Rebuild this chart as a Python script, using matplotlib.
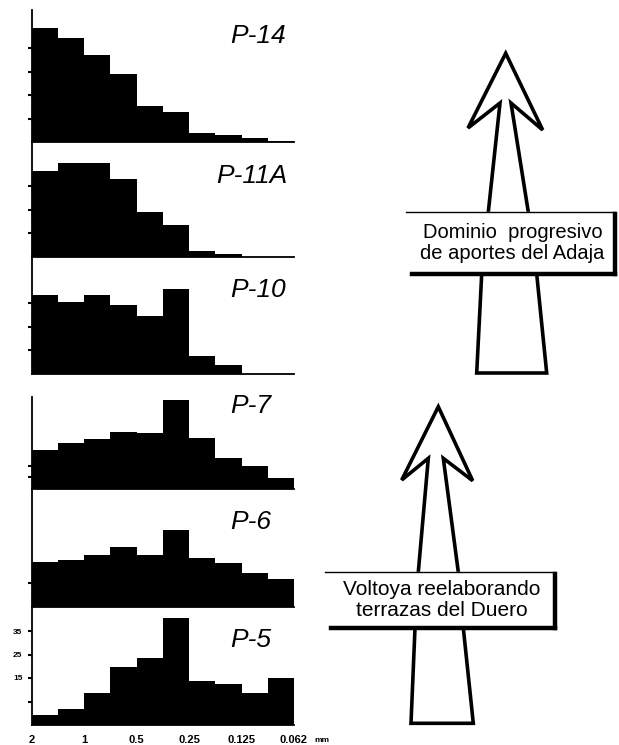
import matplotlib
matplotlib.use("Agg")
import matplotlib.pyplot as plt
import numpy as np

# ---- data (percent per 0.5-phi class) ----
bin_left_phi = [-1.0, -0.5, 0.0, 0.5, 1.0, 1.5, 2.0, 2.5, 3.0, 3.5]
tick_phi = [-1, 0, 1, 2, 3, 4]
tick_labels = ["2", "1", "0.5", "0.25", "0.125", "0.062"]

samples = ["P-14", "P-11A", "P-10", "P-7", "P-6", "P-5"]
p14 = [24.2, 22.1, 18.5, 14.5, 7.7, 6.4, 2.0, 1.5, 0.9, 0.2]
p11a = [18.1, 20.0, 20.0, 16.4, 9.4, 6.6, 1.1, 0.6, 0.0, 0.0]
p10 = [16.8, 15.2, 16.8, 14.5, 12.2, 17.9, 3.7, 1.9, 0.0, 0.0]
p7 = [8.3, 9.7, 10.6, 12.2, 11.9, 18.9, 10.8, 6.5, 4.9, 2.4]
p6 = [9.6, 9.9, 11.1, 12.8, 11.1, 16.3, 10.4, 9.4, 7.2, 6.0]
p5 = [2.1, 3.3, 6.9, 12.4, 14.2, 22.7, 9.4, 8.7, 6.9, 9.9]
series = [p14, p11a, p10, p7, p6, p5]

y_ticks = [[5, 10, 15, 20], [5, 10, 15], [5, 10, 15], [2.5, 5], [5], [5, 10, 15, 20]]
p5_ylabels = {10: "15", 15: "25", 20: "35"}

upper_text = "Dominio  progresivo\nde aportes del Adaja"
lower_text = "Voltoya reelaborando\nterrazas del Duero"

# ---- layout (pixels) ----
W, H = 619, 745
PX_PER_PCT = 4.7
panels_px = [(10, 142), (142, 256.5), (256.5, 373.5), (397, 489), (489, 606.7), (606.7, 725)]
label_pos = [(230, 36), (216, 176), (230, 290), (230, 406), (230, 522), (230, 640)]
x_left, x_right = 31.5, 294

fig = plt.figure(figsize=(W / 100, H / 100), dpi=100)
fig.patch.set_facecolor("white")

for i, (name, vals) in enumerate(zip(samples, series)):
    top, base = panels_px[i]
    ax = fig.add_axes([x_left / W, (H - base) / H, (x_right - x_left) / W, (base - top) / H])
    ax.bar(bin_left_phi, vals, width=0.5, align="edge", color="black", linewidth=0)
    ax.set_xlim(-1, 4)
    ax.set_ylim(0, (base - top) / PX_PER_PCT)
    for s in ["top", "right"]:
        ax.spines[s].set_visible(False)
    for s in ["left", "bottom"]:
        ax.spines[s].set_linewidth(1.3)
    ax.set_facecolor("none")
    ax.set_yticks(y_ticks[i])
    ax.tick_params(axis="y", direction="out", length=3, width=1.5, labelsize=6)
    if name == "P-5":
        ax.set_yticklabels([p5_ylabels.get(t, "") for t in y_ticks[i]],
                           fontweight="bold", family="Liberation Sans")
        ax.set_xticks(tick_phi)
        ax.set_xticklabels(tick_labels, fontsize=8, fontweight="bold", family="Liberation Sans")
        ax.tick_params(axis="x", length=0, pad=7)
    else:
        ax.set_yticklabels([])
        ax.set_xticks([])
    lx, ly = label_pos[i]
    fig.text(lx / W, 1 - ly / H, name, fontsize=19, style="italic",
             family="Liberation Sans", ha="left", va="center")

fig.text(314 / W, 1 - 740 / H, "mm", fontsize=6, fontweight="bold",
         family="Liberation Sans", ha="left", va="center")

# ---- overlay for arrows and boxes ----
ov = fig.add_axes([0, 0, 1, 1])
ov.set_xlim(0, W)
ov.set_ylim(H, 0)
ov.axis("off")
ov.set_facecolor("none")

def arrow(tip, lwing, lnotch, rnotch, rwing, shaft_bot_l, shaft_bot_r,
          box, stem_l, stem_r, text, fs):
    lw = 2.6
    xs = [shaft_bot_l[0], lnotch[0], lwing[0], tip[0], rwing[0], rnotch[0], shaft_bot_r[0]]
    ys = [shaft_bot_l[1], lnotch[1], lwing[1], tip[1], rwing[1], rnotch[1], shaft_bot_r[1]]
    ov.plot(xs, ys, color="black", lw=lw, solid_joinstyle="miter")
    bx0, by0, bx1, by1 = box
    ov.fill([bx0, bx1, bx1, bx0], [by0, by0, by1, by1], color="white", zorder=2)
    ov.plot([bx0, bx1], [by0, by0], color="black", lw=1.0, zorder=3)
    ov.plot([bx1, bx1], [by0 + 2, by1], color="black", lw=3.2, zorder=3)
    ov.plot([bx0 + 6, bx1], [by1, by1], color="black", lw=3.2, zorder=3)
    (a0, a1), (b0, b1) = stem_l, stem_r
    ov.plot([a0[0], a1[0], b1[0], b0[0]], [a0[1], a1[1], b1[1], b0[1]],
            color="black", lw=lw, solid_joinstyle="miter")
    ov.text((bx0 + bx1) / 2 + 2, (by0 + by1) / 2, text, fontsize=fs,
            family="Liberation Sans", ha="center", va="center",
            linespacing=1.15, zorder=4)

arrow(tip=(505.7, 53.3), lwing=(468, 128), lnotch=(500, 103), rnotch=(511, 103),
      rwing=(542.7, 130), shaft_bot_l=(488.3, 212), shaft_bot_r=(528.3, 212),
      box=(406, 212, 615, 274),
      stem_l=((481.7, 274), (476.7, 373)), stem_r=((536.7, 274), (546.7, 373)),
      text=upper_text, fs=14.5)

arrow(tip=(438.3, 406.7), lwing=(401.7, 480), lnotch=(428.3, 458.3), rnotch=(443.3, 458.3),
      rwing=(472.7, 480.7), shaft_bot_l=(418.3, 572), shaft_bot_r=(458.3, 572),
      box=(325, 572, 555, 628),
      stem_l=((415, 628), (411, 723.3)), stem_r=((463.3, 628), (473.3, 723.3)),
      text=lower_text, fs=15)

fig.savefig("out.png", dpi=100, facecolor="white")
